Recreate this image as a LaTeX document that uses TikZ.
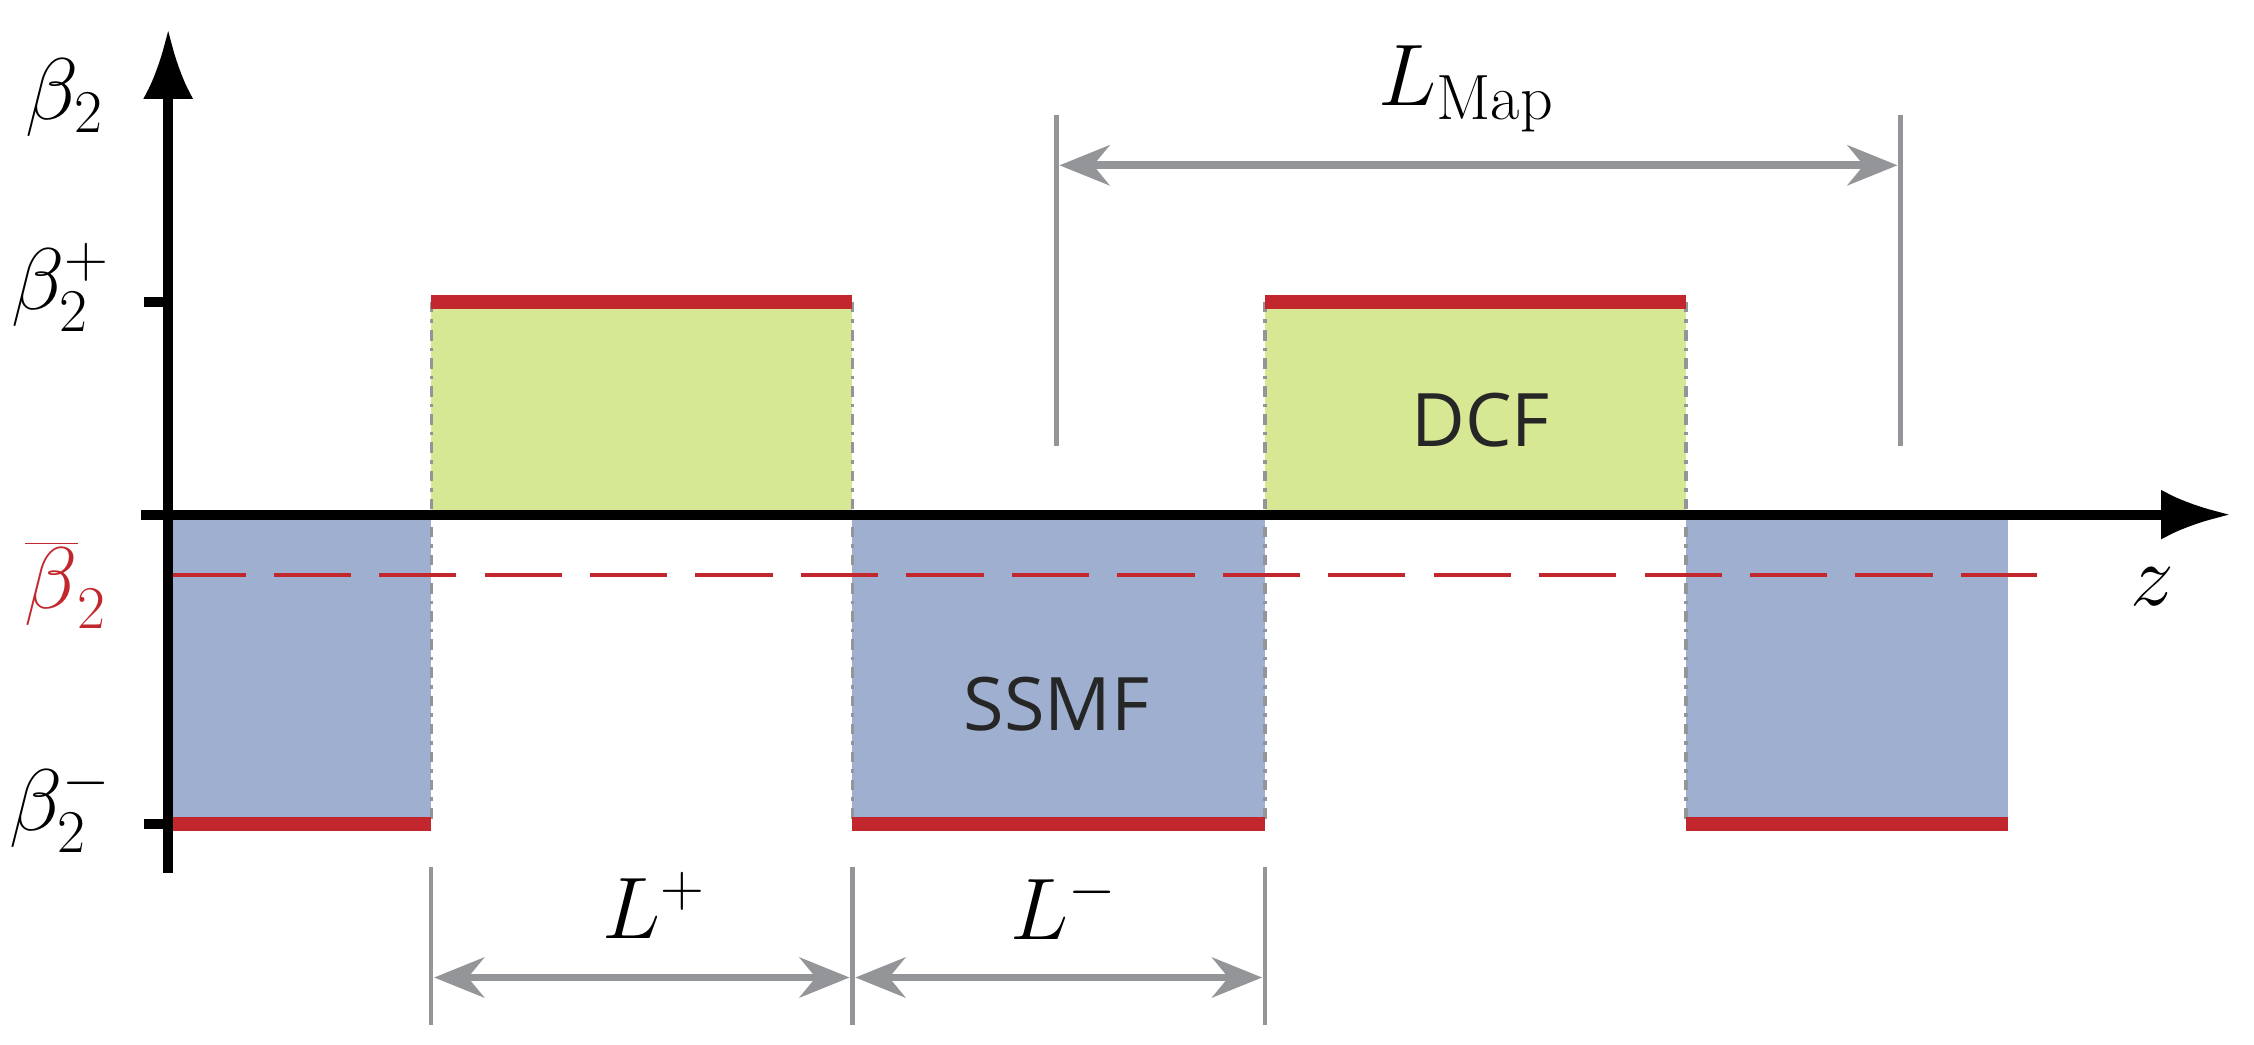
\documentclass[tikz,border=0pt]{standalone}
\usepackage{fontspec}
\newfontfamily\labelfont{Open Sans}
\usetikzlibrary{arrows.meta}
\definecolor{dcfGreen}{HTML}{D7E894}
\definecolor{ssmfBlue}{HTML}{9FAFD0}
\definecolor{levelRed}{HTML}{C1272D}
\definecolor{dimGray}{HTML}{939598}
\begin{document}
\begin{tikzpicture}[x=0.014375cm, y=-0.014375cm,
	mathlabel/.style = {font=\fontsize{26}{30}\selectfont},
	fibrelabel/.style = {font=\labelfont\fontsize{21}{25}\selectfont, text=black!85},
	dimline/.style = {dimGray, line width=1.2pt},
	dimarrow/.style = {dimGray, line width=2.2pt, {Stealth[length=5mm,width=4mm]}-{Stealth[length=5mm,width=4mm]}},
	level/.style = {levelRed, line width=4pt},
	edge/.style = {dimGray, line width=1pt, dash dot}]

	\useasboundingbox (0,0) rectangle (1568,726.3);

	% fibre sections
	\def \top {210};
	\def \bottom {573};
	\def \zero {358};
	\fill [ssmfBlue] (117,\zero) rectangle (300,\bottom);
	\fill [dcfGreen] (300,\top) rectangle (593,\zero);
	\fill [ssmfBlue] (593,\zero) rectangle (880,\bottom);
	\fill [dcfGreen] (880,\top) rectangle (1173,\zero);
	\fill [ssmfBlue] (1173,\zero) rectangle (1397,\bottom);

	% section edges
	\foreach \x in {300, 593, 880, 1173}
		\draw [edge] (\x,\top) -- (\x,\bottom);

	% dispersion levels
	\draw [level] (117,\bottom) -- (300,\bottom);
	\draw [level] (300,\top) -- (593,\top);
	\draw [level] (593,\bottom) -- (880,\bottom);
	\draw [level] (880,\top) -- (1173,\top);
	\draw [level] (1173,\bottom) -- (1397,\bottom);

	% mean dispersion
	\draw [levelRed, line width=1.2pt, dash pattern=on 22pt off 8pt] (117,400) -- (1417,400);

	% axes
	\coordinate (origin) at (117,\zero);
	\coordinate (yTop) at (117,20);
	\coordinate (yBottom) at (117,607);
	\coordinate (xLeft) at (98,\zero);
	\coordinate (xRight) at (1552,\zero);
	\draw [line width=2.8pt, -{Latex[length=7mm,width=5mm]}] (yBottom) -- (yTop);
	\draw [line width=2.8pt, -{Latex[length=7mm,width=5mm]}] (xLeft) -- (xRight);
	\draw [line width=2.8pt] (100,\top) -- (117,\top);
	\draw [line width=2.8pt] (100,\bottom) -- (117,\bottom);

	\node [mathlabel] (betaAxis) at (45,68) {$\beta_2$};
	\node [mathlabel] (betaPlus) at (42,200) {$\beta_2^+$};
	\node [mathlabel, text=levelRed] (betaMean) at (46,407) {$\overline{\beta}_2$};
	\node [mathlabel] (betaMinus) at (42,562) {$\beta_2^-$};
	\node [mathlabel] (zAxis) at (1497,408) {$z$};

	% map length
	\coordinate (mapLeftTop) at (735,80);
	\coordinate (mapLeftBottom) at (735,310);
	\coordinate (mapRightTop) at (1322,80);
	\coordinate (mapRightBottom) at (1322,310);
	\draw [dimline] (mapLeftTop) -- (mapLeftBottom);
	\draw [dimline] (mapRightTop) -- (mapRightBottom);
	\coordinate (mapArrowLeft) at (737,115);
	\coordinate (mapArrowRight) at (1320,115);
	\draw [dimarrow] (mapArrowLeft) -- (mapArrowRight);
	\node [mathlabel] (mapLabel) at (1020,62) {$L_{\mathrm{Map}}$};

	% section lengths
	\foreach \x in {300, 593, 880}
		\draw [dimline] (\x,603) -- (\x,713);
	\coordinate (plusLeft) at (302,680);
	\coordinate (plusRight) at (591,680);
	\coordinate (minusLeft) at (595,680);
	\coordinate (minusRight) at (878,680);
	\draw [dimarrow] (plusLeft) -- (plusRight);
	\draw [dimarrow] (minusLeft) -- (minusRight);
	\node [mathlabel] (plusLabel) at (455,630) {$L^+$};
	\node [mathlabel] (minusLabel) at (740,630) {$L^-$};

	% fibre names
	\node [fibrelabel] (dcf) at (1030,292) {DCF};
	\node [fibrelabel] (ssmf) at (735,490) {SSMF};

\end{tikzpicture}
\end{document}
